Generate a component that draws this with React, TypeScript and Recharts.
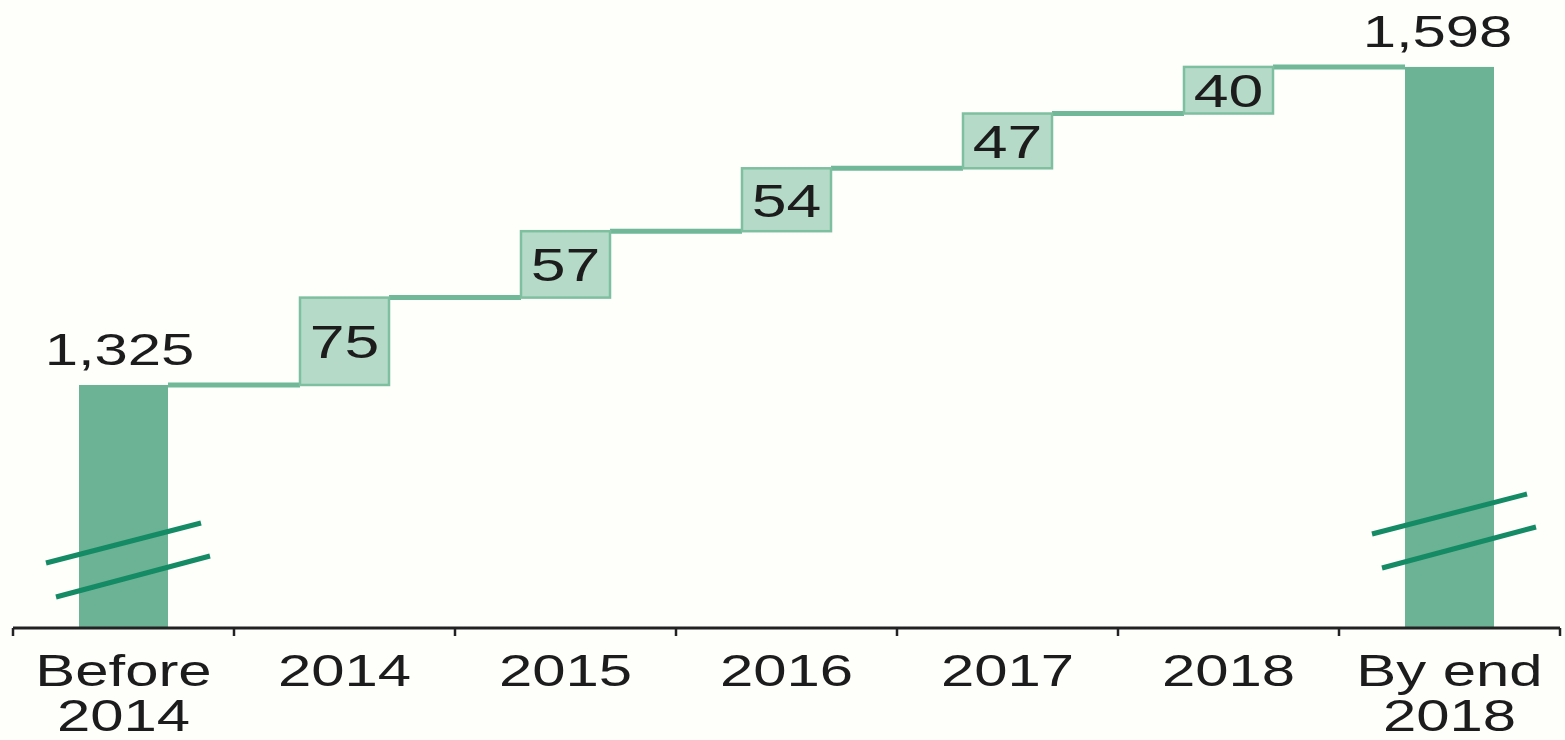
import { BarChart, Bar, XAxis, YAxis } from "recharts";

const CATEGORIES: string[] = [
  "Before\n2014",
  "2014",
  "2015",
  "2016",
  "2017",
  "2018",
  "By end\n2018",
];
const START_TOTAL = 1325;
const YEARLY_ADDED: number[] = [75, 57, 54, 47, 40];
const END_TOTAL = 1598;
const Y_DOMAIN: [number, number] = [1116.4, 1640];

const BAND = 221;
const BAR_W = 89;
const TOTAL_COLOR = "#6bb394";
const STEP_FILL = "#b5dbc8";
const STEP_STROKE = "#7ebf9f";
const LINK_COLOR = "#70b898";
const BREAK_COLOR = "#148a65";
const TEXT_COLOR = "#1c1c1c";
const FONT = "'Liberation Sans', Arial, Helvetica, sans-serif";
const STRETCH = 1.36;
// how far the break marks sit above the bar bottom, per total bar
const BREAK_LIFT: number[] = [0, 29];
// total labels sit a bit left of the bar centre in the original
const TOTAL_LABEL_DX: number[] = [-4, -12];

type Row = {
  name: string;
  kind: "total" | "step";
  low: number;
  high: number;
  label: string;
};

const fmt = (v: number) => v.toLocaleString("en-US");

const rows: Row[] = [];
rows.push({
  name: CATEGORIES[0],
  kind: "total",
  low: Y_DOMAIN[0],
  high: START_TOTAL,
  label: fmt(START_TOTAL),
});
let running = START_TOTAL;
YEARLY_ADDED.forEach((v, i) => {
  rows.push({
    name: CATEGORIES[i + 1],
    kind: "step",
    low: running,
    high: running + v,
    label: String(v),
  });
  running += v;
});
rows.push({
  name: CATEGORIES[CATEGORIES.length - 1],
  kind: "total",
  low: Y_DOMAIN[0],
  high: END_TOTAL,
  label: fmt(END_TOTAL),
});

const StretchText = ({
  x,
  y,
  size,
  children,
}: {
  x: number;
  y: number;
  size: number;
  children: string;
}) => (
  <text
    transform={`translate(${x},${y}) scale(${STRETCH},1)`}
    textAnchor="middle"
    fontFamily={FONT}
    fontSize={size}
    fill={TEXT_COLOR}
  >
    {children}
  </text>
);

const WaterfallShape = (props: any) => {
  const { x, y, width, height, payload, index } = props;
  const row = payload as Row;
  const cx = x + width / 2;
  const isLast = index === rows.length - 1;
  const link = !isLast ? (
    <line
      x1={x + width}
      x2={x + BAND}
      y1={y}
      y2={y}
      stroke={LINK_COLOR}
      strokeWidth={5}
    />
  ) : null;

  if (row.kind === "total") {
    const b = y + height;
    const k = index === 0 ? 0 : 1;
    const lift = BREAK_LIFT[k];
    return (
      <g>
        {link}
        <rect x={x} y={y} width={width} height={height} fill={TOTAL_COLOR} />
        <line
          x1={x - 33}
          y1={b - 65 - lift}
          x2={x + 122}
          y2={b - 105 - lift}
          stroke={BREAK_COLOR}
          strokeWidth={5}
        />
        <line
          x1={x - 23}
          y1={b - 31 - lift}
          x2={x + 131}
          y2={b - 72 - lift}
          stroke={BREAK_COLOR}
          strokeWidth={5}
        />
        <StretchText x={cx + TOTAL_LABEL_DX[k]} y={y - 20} size={44}>
          {row.label}
        </StretchText>
      </g>
    );
  }

  return (
    <g>
      {link}
      <rect
        x={x}
        y={y}
        width={width}
        height={height}
        fill={STEP_FILL}
        stroke={STEP_STROKE}
        strokeWidth={2.5}
      />
      <StretchText x={cx} y={y + height / 2 + 17} size={46}>
        {row.label}
      </StretchText>
    </g>
  );
};

const CategoryTick = (props: any) => {
  const { x, y, payload, index } = props;
  const lines = String(payload.value).split("\n");
  const last = index === CATEGORIES.length - 1;
  return (
    <g>
      <line x1={x - BAND / 2} x2={x - BAND / 2} y1={y} y2={y + 8} stroke="#222" strokeWidth={2.5} />
      {last && (
        <line x1={x + BAND / 2} x2={x + BAND / 2} y1={y} y2={y + 8} stroke="#222" strokeWidth={2.5} />
      )}
      {lines.map((l, i) => (
        <StretchText key={i} x={x} y={y + 58 + i * 45} size={44}>
          {l}
        </StretchText>
      ))}
    </g>
  );
};

const App = () => {
  return (
    <div
      style={{
        position: "absolute",
        left: 0,
        top: 0,
        width: 1565,
        height: 740,
        background: "#fefefb",
      }}
    >
      <BarChart
        width={1565}
        height={740}
        data={rows}
        margin={{ top: 18, right: 5, bottom: 12, left: 13 }}
        barSize={BAR_W}
      >
        <XAxis
          dataKey="name"
          height={100}
          interval={0}
          tickSize={0}
          tickMargin={0}
          tickLine={false}
          axisLine={{ stroke: "#222", strokeWidth: 3 }}
          tick={<CategoryTick />}
        />
        <YAxis hide type="number" domain={Y_DOMAIN} />
        <Bar
          dataKey={(d: Row) => [d.low, d.high]}
          shape={(p: any) => <WaterfallShape {...p} />}
          isAnimationActive={false}
        />
      </BarChart>
    </div>
  );
};

export default App;
